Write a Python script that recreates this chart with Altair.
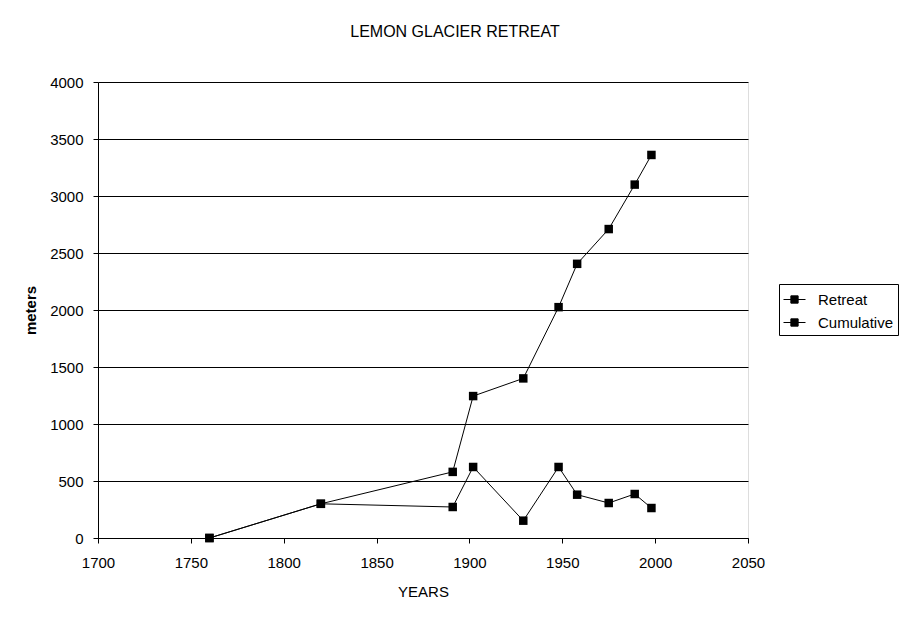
import altair as alt
import pandas as pd

years = [1760, 1820, 1891, 1902, 1929, 1948, 1958, 1975, 1989, 1998]
retreat = [0, 300, 272, 623, 152, 623, 380, 307, 386, 263]
cumulative = [0, 300, 580, 1245, 1400, 2025, 2405, 2710, 3100, 3360]
series_names = ["Retreat", "Cumulative"]
x_ticks = [1700, 1750, 1800, 1850, 1900, 1950, 2000, 2050]
y_ticks = [0, 500, 1000, 1500, 2000, 2500, 3000, 3500, 4000]

rows = []
for y, r in zip(years, retreat):
    rows.append({"year": y, "value": r, "series": "Retreat"})
for y, c in zip(years, cumulative):
    rows.append({"year": y, "value": c, "series": "Cumulative"})
df = pd.DataFrame(rows)

FONT = "Liberation Sans"

x_enc = alt.X(
    "year:Q",
    scale=alt.Scale(domain=[1700, 2050], nice=False, zero=False),
    axis=alt.Axis(
        values=x_ticks, format="d", grid=False, title="YEARS",
        domainColor="black", tickColor="black", tickSize=5,
        labelFont=FONT, labelFontSize=15, labelColor="black", labelFlush=False,
        labelBaseline="alphabetic", labelPadding=24, labelOverlap=False,
        titleFont=FONT, titleFontSize=15, titleFontWeight="normal", titleColor="black",
        titleX=325, titleY=58, titleBaseline="alphabetic", titleAlign="center",
    ),
)
y_enc = alt.Y(
    "value:Q",
    scale=alt.Scale(domain=[0, 4000], nice=False),
    axis=alt.Axis(
        values=y_ticks, format="d", grid=True, gridColor="black", gridWidth=1, gridOpacity=1,
        title="meters", domainColor="black", tickColor="black", tickSize=5,
        labelFont=FONT, labelFontSize=15, labelColor="black", labelPadding=10,
        labelFlush=False, labelOverlap=False,
        titleFont=FONT, titleFontSize=15, titleFontWeight="bold", titleColor="black",
        titleX=-63, titleY=228, titleAngle=-90, titleBaseline="alphabetic", titleAlign="center",
    ),
)
color_scale = alt.Scale(domain=series_names, range=["black", "black"])

lines = alt.Chart(df).mark_line(strokeWidth=1, color="black").encode(
    x=x_enc, y=y_enc,
    detail="series:N",
)
points = alt.Chart(df).mark_point(shape="square", filled=True, size=72, opacity=1).encode(
    x=x_enc, y=y_enc,
    color=alt.Color(
        "series:N", scale=color_scale,
        legend=alt.Legend(
            title=None, orient="none", legendX=681, legendY=202,
            symbolType="M-1,0H1M-0.33,-0.33H0.33V0.33H-0.33Z",
            symbolSize=484, symbolStrokeColor="black", symbolStrokeWidth=1,
            symbolFillColor="black", symbolOpacity=1,
            labelFont=FONT, labelFontSize=15, labelColor="black", labelOffset=12,
            rowPadding=3, padding=4, strokeColor="black", fillColor="white",
            labelLimit=200,
        ),
    ),
)

chart = alt.layer(lines, points).properties(
    width=650, height=456,
    title=alt.TitleParams(
        "LEMON GLACIER RETREAT", anchor="middle", frame="group", dx=32,
        font=FONT, fontSize=16, fontWeight="normal", color="black",
        baseline="alphabetic", offset=22,
    ),
    autosize=alt.AutoSizeParams(type="none"),
    padding={"left": 90, "top": 74, "right": 155, "bottom": 77},
).configure_view(stroke="#808080", strokeWidth=1).configure(background="white")

chart.save("out.html", embed_options={"renderer": "svg", "actions": False})
